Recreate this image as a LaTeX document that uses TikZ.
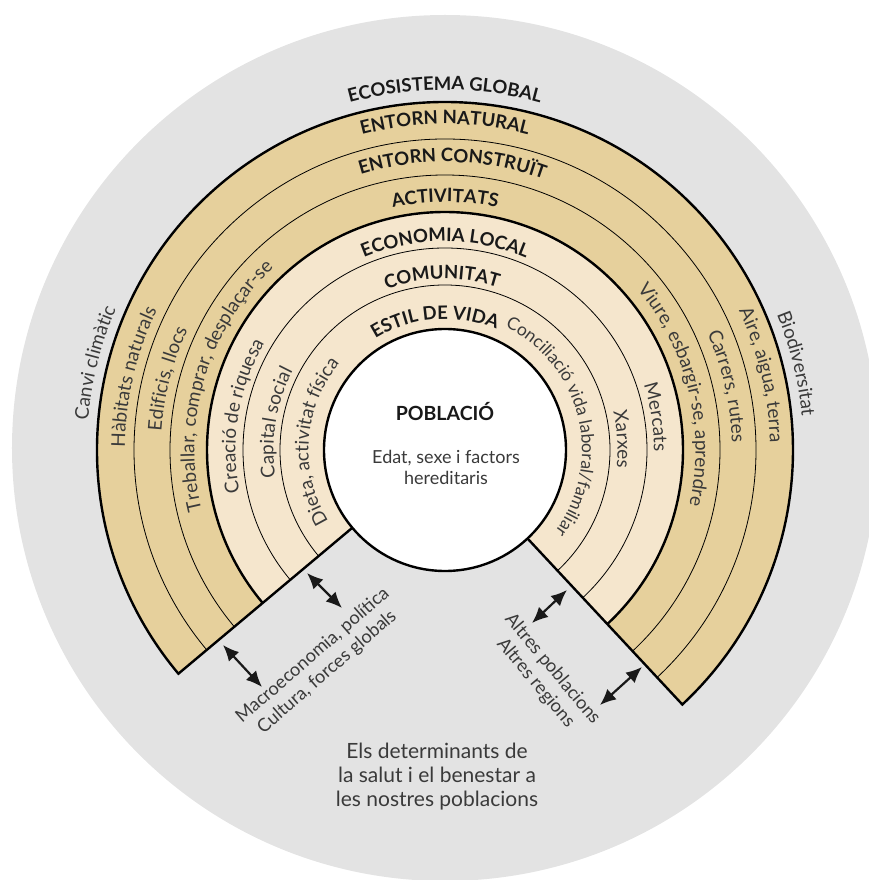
\documentclass[tikz,border=0pt]{standalone}
\usepackage{fontspec}
\setmainfont{Lato}
\usetikzlibrary{arrows.meta,decorations.text}

\definecolor{ecogray}{HTML}{E3E3E3}
\definecolor{outertan}{HTML}{E6D09C}
\definecolor{innertan}{HTML}{F5E6CD}
\definecolor{inkgray}{HTML}{3A3A3A}

\newcommand{\capsfont}{\color{black!90}\bfseries\fontsize{18.5}{18.5}\selectfont}
\newcommand{\sidefont}{\color{inkgray}\fontsize{19}{19}\selectfont}
% text on a clockwise arc: radius, centre angle, format, text
\newcommand{\ringtext}[4]{%
  \path[decorate,decoration={text along path,text align=center,text={|#3|#4}}]
    (#2+85:#1) arc[start angle=#2+85,end angle=#2-85,radius=#1];}

\begin{document}
\begin{tikzpicture}[x=1pt,y=1pt,
    thinring/.style={line width=0.8pt},
    thickring/.style={line width=2.4pt,line join=miter},
    twoway/.style={{Latex[length=16pt,width=14pt]}-{Latex[length=16pt,width=14pt]},line width=2.2pt,draw=black!90},
    note/.style={text=inkgray,align=center,inner sep=0pt}]
  \useasboundingbox (-445,-430) rectangle (423,450);
  \fill[ecogray] (0,2) circle[radius=433];

  % bands
  \fill[outertan] (0,0) -- (-47:348) arc[start angle=-47,end angle=220,radius=348] -- cycle;
  \fill[innertan] (0,0) -- (-47:238) arc[start angle=-47,end angle=220,radius=238] -- cycle;
  \foreach \r in {311,275,202,165}
    \draw[thinring] (-47:\r) arc[start angle=-47,end angle=220,radius=\r];
  \draw[thickring] (-47:238) arc[start angle=-47,end angle=220,radius=238];
  \draw[thickring] (220:121) -- (220:348) arc[start angle=220,end angle=-47,radius=348] -- (-47:121);

  \node[circle,draw,thickring,fill=white,minimum size=242pt,inner sep=0pt] (pop) at (0,0) {};
  \node[font=\bfseries\fontsize{19.5}{19.5}\selectfont,text=black!90] (title) at (0,38) {POBLACIÓ};
  \node[note,font=\fontsize{18}{21}\selectfont] (traits) at (1,-17) {Edat, sexe i factors\\hereditaris};

  % band titles
  \ringtext{360}{90}{\capsfont}{ECOSISTEMA GLOBAL}
  \ringtext{326}{90}{\capsfont}{ENTORN NATURAL}
  \ringtext{288}{88.5}{\capsfont}{ENTORN CONSTRUÏT}
  \ringtext{248}{90}{\capsfont}{ACTIVITATS}
  \ringtext{208.5}{90}{\capsfont}{ECONOMIA LOCAL}
  \ringtext{171}{91}{\capsfont}{COMUNITAT}
  \ringtext{131}{94.5}{\capsfont}{ESTIL DE VIDA}
  \path[decorate,decoration={text along path,text align=left,
      text={|\color{inkgray}\fontsize{17.5}{17.5}\selectfont|Conciliació vida laboral/familiar}}]
    (64:137) arc[start angle=64,end angle=-70,radius=137];

  % left side
  \ringtext{358}{166}{\sidefont}{Canvi climàtic}
  \ringtext{320}{166.8}{\sidefont}{Hàbitats naturals}
  \ringtext{284}{165.6}{\sidefont}{Edificis, llocs}
  \ringtext{250.5}{163.5}{\sidefont}{Treballar, comprar, desplaçar-se}
  \ringtext{209.5}{170.5}{\sidefont}{Creació de riquesa}
  \ringtext{171.5}{170.8}{\sidefont}{Capital social}
  \ringtext{136.5}{176}{\sidefont}{Dieta, activitat física}

  % right side
  \ringtext{358.5}{13.8}{\sidefont}{Biodiversitat}
  \ringtext{325}{13.3}{\sidefont}{Aire, aigua, terra}
  \ringtext{287}{12.7}{\sidefont}{Carrers, rutes}
  \ringtext{250.5}{13.6}{\sidefont}{Viure, esbargir-se, aprendre}
  \ringtext{209}{8.8}{\sidefont}{Mercats}
  \ringtext{172.5}{3.4}{\sidefont}{Xarxes}

  % outside links
  \node[note,font=\fontsize{18.3}{22}\selectfont,rotate=41] (macro) at (-125,-214)
    {Macroeconomia, política\\Cultura, forces globals};
  \node[note,font=\fontsize{18.3}{22}\selectfont,rotate=-50] (others) at (99,-226)
    {Altres poblacions\\Altres regions};
  \coordinate (m1) at (-222,-195);
  \coordinate (m2) at (-183,-237);
  \coordinate (g1) at (-138,-123);
  \coordinate (g2) at (-103,-158);
  \coordinate (p1) at (122,-140);
  \coordinate (p2) at (87,-173);
  \coordinate (r1) at (197,-217);
  \coordinate (r2) at (155,-255);
  \draw[twoway] (m1) -- (m2);
  \draw[twoway] (g1) -- (g2);
  \draw[twoway] (p1) -- (p2);
  \draw[twoway] (r1) -- (r2);

  \node[note,font=\fontsize{21}{24}\selectfont] (caption) at (-8,-327)
    {Els determinants de\\la salut i el benestar a\\les nostres poblacions};
\end{tikzpicture}
\end{document}
